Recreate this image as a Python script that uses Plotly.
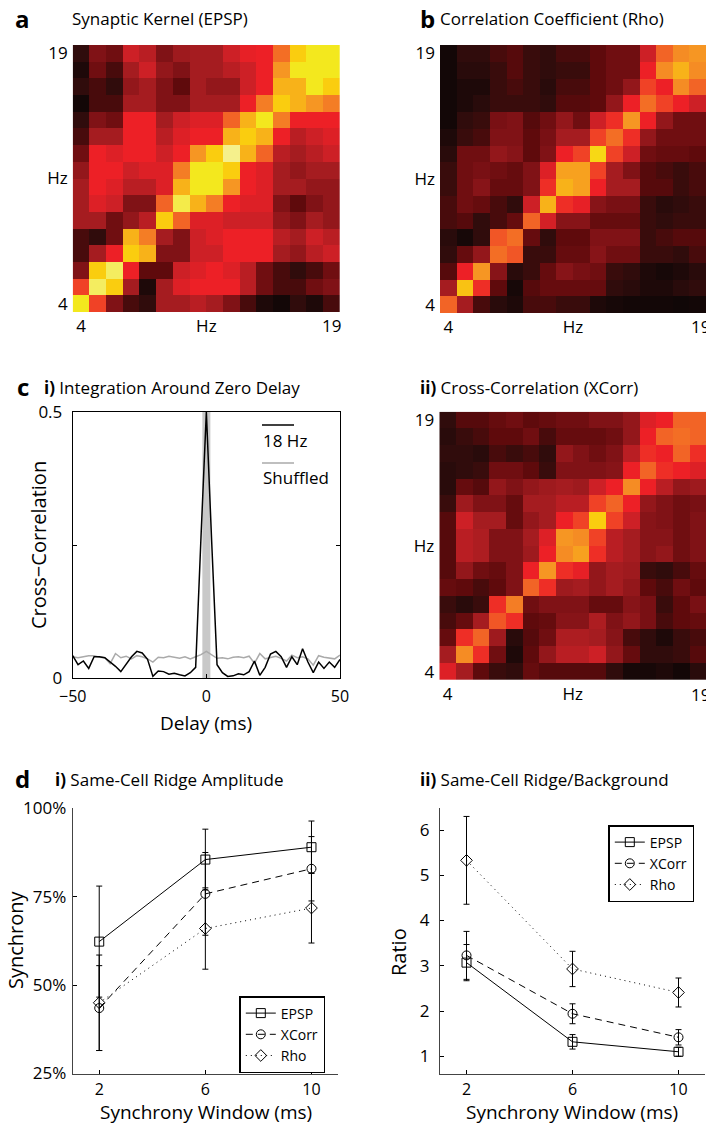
import plotly.graph_objects as go

W, H = 706, 1126
FONT = "Open Sans"

# ---------------- data ----------------
freqs = list(range(4, 20))
freqs_desc = freqs[::-1]          # rows listed from 19 Hz (top) down to 4 Hz

# colour-level values (0 = black ... 10 = pale yellow), rows 19 Hz -> 4 Hz
epsp_kernel = [
    [1, 3, 2.5, 5, 4.5, 3, 3.8, 4, 4, 5, 5.8, 6, 7.2, 9, 9.5, 9.5],
    [0.5, 2.5, 1.5, 4, 5, 3.5, 3, 4, 4, 4.5, 5, 6, 8, 9.5, 9.5, 9.5],
    [1, 1.5, 1, 3.5, 4, 3, 2, 4, 3.5, 3.5, 5, 6, 8.5, 8.5, 9.5, 9],
    [0.2, 1.5, 1.5, 4, 4, 3, 3, 4, 4, 4, 6, 7.5, 9, 8.5, 8, 7.5],
    [1, 3, 2.5, 6, 6, 4, 5, 5.5, 5.5, 7, 8.5, 9.5, 7.5, 6, 6, 6],
    [1.5, 4, 4, 6, 6, 4.5, 5.5, 6, 6, 8.5, 9, 8.5, 6, 4.5, 5, 5.5],
    [2.5, 6, 5.5, 6, 6, 5, 6, 8, 9, 10, 8.5, 7, 4.5, 4, 4.5, 5],
    [3.5, 6, 6, 5, 5.5, 5.5, 7.5, 9.5, 9.5, 9, 6, 5.5, 4, 3.5, 4, 4],
    [4, 6, 5.5, 4.5, 4.5, 5.5, 8.5, 9.5, 9.5, 8, 6, 5.5, 4, 4, 3.5, 3.5],
    [4, 5.5, 5, 3, 3, 7, 9.7, 8.5, 7.5, 6, 5.5, 5.5, 3, 2, 3, 3.5],
    [4, 4, 2.5, 3.5, 4.5, 9, 7, 5.5, 5.5, 5, 5, 5, 3.5, 3, 4, 3.5],
    [1.5, 1, 2.5, 8.5, 7.5, 4, 3, 5, 5.5, 6, 6, 6, 4.5, 4, 5, 4.5],
    [1.5, 4, 6, 9, 8.5, 3, 3, 5, 5, 6, 6, 6, 4, 3.5, 4.5, 5],
    [3, 9, 9.8, 6, 2, 2, 5, 5.5, 6, 5.5, 4.5, 2.5, 1.5, 1, 1.5, 2.5],
    [6.5, 9.8, 9, 4, 0.5, 4, 5.5, 6, 6, 6, 4.5, 2.5, 1.5, 1.5, 2.5, 3],
    [9.5, 6.5, 3, 1.5, 1, 4, 4, 4.5, 4, 3, 1.5, 0.5, 0.2, 1, 0.5, 1.5],
]

rho_matrix = [
    [0.2, 1, 1, 1.5, 1.8, 1.2, 1, 1.5, 1.5, 2, 2.5, 2.5, 5, 7, 7.8, 8],
    [0.2, 0.8, 0.8, 1.2, 1.8, 1.2, 1, 1.2, 1.2, 2, 2.5, 2.5, 6, 7.8, 8.5, 7.8],
    [0.2, 0.5, 0.5, 1.2, 1.5, 1.2, 0.8, 1.5, 1.5, 2, 2.5, 3.5, 6.5, 6, 7.8, 7],
    [0.2, 0.5, 0.8, 1.2, 1.2, 1.2, 1, 1.8, 1.8, 2, 3.5, 6, 7.2, 6.5, 6, 5],
    [0.2, 1, 1.2, 2.8, 3, 1.8, 2.5, 3.5, 2.5, 5, 6.2, 8, 6, 3.5, 2.5, 2.5],
    [0.5, 1.2, 1.5, 3, 3, 2, 2.8, 4, 4, 6.5, 7.2, 6.2, 3.5, 2.5, 2.5, 2.5],
    [0.8, 2.5, 2.5, 3.5, 3.2, 2, 3, 6, 6.5, 9.2, 6.5, 5, 2.5, 2.2, 2.2, 2],
    [1.2, 2.5, 2.8, 2.5, 2.2, 3, 5.5, 8.2, 8.2, 6.5, 4, 3, 1.8, 1.5, 1.2, 1.5],
    [1.2, 2.5, 3.2, 2.2, 2.2, 3, 6.2, 8.5, 8.2, 6, 4, 4, 1.8, 1.8, 1.2, 1.5],
    [1.5, 2.5, 2.2, 1.5, 1, 5, 8.5, 6.2, 5.8, 3.2, 2.8, 2.8, 1.2, 0.8, 1, 1.2],
    [1.5, 1.8, 1, 1.5, 2.2, 7, 5.2, 3.2, 3.2, 2.2, 2.2, 2.2, 1.2, 1, 1.2, 1.2],
    [0.8, 0.3, 1, 6.8, 7.2, 2.2, 1, 2, 2, 3, 3, 3, 1.2, 1.5, 1.8, 1.8],
    [1, 2.2, 3.5, 7.2, 6.8, 1.2, 1.2, 2.2, 2.2, 3.2, 2.5, 2.5, 1.2, 1.2, 1, 1.5],
    [1.8, 6, 8, 3.2, 0.8, 1.2, 2.2, 3.2, 2.8, 2.5, 1.2, 1, 0.5, 0.3, 0.5, 0.8],
    [4, 8.8, 6.2, 2, 0.3, 1.8, 2.2, 2.2, 2.2, 2.2, 1, 0.8, 0.5, 0.5, 0.8, 1],
    [7, 4, 1.5, 0.8, 0.5, 1.5, 1.5, 1.2, 1.2, 0.5, 0.3, 0.2, 0.2, 0.2, 0.1, 0.2],
]

xcorr_matrix = [
    [1, 1.8, 1.8, 2.2, 2.5, 2, 2.2, 2.5, 2.5, 3, 3, 3.5, 5.5, 6, 7, 7],
    [0.8, 1.2, 1.5, 2, 2, 2.5, 1.5, 2.2, 2.2, 2.2, 2.5, 3.5, 6, 7, 7.2, 7],
    [1, 1, 0.8, 1.5, 1.2, 1.5, 1, 3.5, 3, 2.5, 3, 4.5, 6.2, 6, 7, 6.2],
    [0.8, 1, 1.2, 2.5, 2.5, 2, 1.2, 3, 3, 3, 3.2, 6, 7, 6.2, 6, 5.5],
    [0.8, 2.2, 1.8, 3.5, 3, 3.5, 3.8, 4, 3.8, 5, 6, 7.8, 6, 4.5, 3.5, 3.8],
    [1.2, 3.8, 3, 3, 2.2, 4, 4, 4.5, 4.5, 6.5, 7, 6, 3.5, 3, 2.5, 2.8],
    [1.8, 5, 4, 4, 2.2, 3.5, 4, 6, 6.5, 9, 6.5, 5, 3.2, 3, 2.5, 3],
    [1.8, 4.5, 4.2, 3, 3, 4, 5.5, 8, 7.8, 6.5, 4.5, 4, 3.2, 3.2, 2.5, 3],
    [1.8, 4.5, 4.2, 3, 3, 3.8, 6, 7.8, 8.2, 6.2, 4.5, 4, 3.2, 3.5, 2.5, 3],
    [1.8, 3.5, 2.5, 2.2, 3, 6, 8, 6.2, 5.8, 3.5, 4, 3.8, 1.2, 1, 1.5, 2.2],
    [2.2, 2, 1.5, 2, 3, 7, 6.2, 3.8, 4, 3.5, 4, 3.5, 2, 1.5, 2.5, 2],
    [1.2, 0.8, 1.2, 6.2, 7.5, 2.5, 3, 3, 3, 2.2, 2.2, 3.2, 2.8, 1.2, 2, 2.8],
    [1.5, 2.2, 4, 6.8, 6.2, 2, 2.2, 3.2, 3.2, 4.2, 3, 3.5, 2.8, 1.5, 2, 2.2],
    [2.2, 6.2, 7, 3.8, 0.8, 1.8, 2.5, 4.2, 4.2, 4, 3.2, 1.5, 1, 0.5, 1.2, 1.5],
    [4, 7.8, 6.2, 2.5, 0.5, 2, 3.5, 4.5, 4.5, 5, 3.5, 2.2, 1, 1, 1.2, 1.8],
    [5.5, 4, 2, 1.2, 1, 2.2, 1.8, 1.8, 1.8, 1.8, 1, 0.3, 0.3, 0.5, 0.2, 0.8],
]

# panel c i : cross-correlation vs delay
delay_ms = list(range(-50, 51, 2))
xcorr_18hz = [0.042, 0.025, 0.032, 0.018, 0.040, 0.040, 0.038, 0.030, 0.022, 0.012,
              0.025, 0.040, 0.050, 0.047, 0.035, 0.003, 0.013, 0.012, 0.007, 0.009,
              0.006, 0.004, 0.010, 0.020, 0.265, 0.500, 0.255, 0.025, 0.010, 0.003,
              0.004, 0.008, 0.006, 0.012, 0.032, 0.005, 0.020, 0.045, 0.050, 0.040,
              0.020, 0.040, 0.025, 0.055, 0.030, 0.010, 0.030, 0.018, 0.030, 0.020,
              0.035]
xcorr_shuffled = [0.040, 0.038, 0.040, 0.042, 0.042, 0.039, 0.038, 0.027, 0.046, 0.038,
                  0.041, 0.036, 0.042, 0.040, 0.036, 0.030, 0.039, 0.038, 0.041, 0.039,
                  0.037, 0.040, 0.036, 0.040, 0.044, 0.050, 0.043, 0.037, 0.038, 0.036,
                  0.039, 0.040, 0.038, 0.041, 0.028, 0.046, 0.036, 0.039, 0.041, 0.037,
                  0.032, 0.043, 0.038, 0.040, 0.036, 0.024, 0.042, 0.039, 0.037, 0.036,
                  0.043]
zero_window = [-1.5, 1.5]

# panel d
sync_window = [2, 6, 10]
amp_epsp = [62.3, 85.5, 89.0]
amp_epsp_err = [15.7, 8.6, 7.4]
amp_xcorr = [43.5, 75.8, 82.9]
amp_xcorr_err = [12.0, 11.7, 9.1]
amp_rho = [45.0, 66.0, 71.8]
amp_rho_err = [13.5, 11.5, 9.9]
amp_ticks = [25, 50, 75, 100]
amp_ticklabels = ["25%", "50%", "75%", "100%"]

ratio_epsp = [3.07, 1.32, 1.10]
ratio_epsp_err = [0.40, 0.16, 0.10]
ratio_xcorr = [3.23, 1.94, 1.42]
ratio_xcorr_err = [0.53, 0.22, 0.17]
ratio_rho = [5.33, 2.93, 2.41]
ratio_rho_err = [0.97, 0.39, 0.32]
ratio_ticks = [1, 2, 3, 4, 5, 6]

# ---------------- helpers ----------------
def px(x):
    return x / W

def py(y):
    return 1 - y / H

hot = [
    [0.00, "rgb(12,6,6)"],
    [0.10, "rgb(48,12,12)"],
    [0.20, "rgb(95,10,12)"],
    [0.30, "rgb(128,18,22)"],
    [0.40, "rgb(165,28,32)"],
    [0.50, "rgb(205,32,38)"],
    [0.60, "rgb(237,32,38)"],
    [0.70, "rgb(242,100,38)"],
    [0.80, "rgb(246,150,35)"],
    [0.90, "rgb(250,205,15)"],
    [0.95, "rgb(243,232,30)"],
    [1.00, "rgb(245,240,140)"],
]

fig = go.Figure()

heat_specs = [
    (epsp_kernel, "x", "y"),
    (rho_matrix, "x2", "y2"),
    (xcorr_matrix, "x4", "y4"),
]
for z, xa, ya in heat_specs:
    fig.add_trace(go.Heatmap(z=z, x=freqs, y=freqs_desc, colorscale=hot, zmin=0, zmax=10,
                             showscale=False, xaxis=xa, yaxis=ya, hoverinfo="skip"))

# c i
fig.add_trace(go.Scatter(x=delay_ms, y=xcorr_shuffled, mode="lines",
                         line=dict(color="rgb(170,170,170)", width=1.5),
                         xaxis="x3", yaxis="y3", showlegend=False))
fig.add_trace(go.Scatter(x=delay_ms, y=xcorr_18hz, mode="lines",
                         line=dict(color="black", width=1.5),
                         xaxis="x3", yaxis="y3", showlegend=False))

series = [
    ("EPSP", "solid", "square-open"),
    ("XCorr", "7px,5px", "circle-open"),
    ("Rho", "1px,4px", "diamond-open"),
]
amp_vals = [(amp_epsp, amp_epsp_err), (amp_xcorr, amp_xcorr_err), (amp_rho, amp_rho_err)]
ratio_vals = [(ratio_epsp, ratio_epsp_err), (ratio_xcorr, ratio_xcorr_err), (ratio_rho, ratio_rho_err)]

for (name, dash, sym), (v, e) in zip(series, amp_vals):
    fig.add_trace(go.Scatter(x=sync_window, y=v, name=name, mode="lines+markers",
                             line=dict(color="black", width=1, dash=dash),
                             marker=dict(symbol=sym, size=9, color="black",
                                         line=dict(color="black", width=1)),
                             error_y=dict(type="data", array=e, visible=True,
                                          color="black", thickness=1, width=3),
                             xaxis="x5", yaxis="y5", legend="legend"))
for (name, dash, sym), (v, e) in zip(series, ratio_vals):
    fig.add_trace(go.Scatter(x=sync_window, y=v, name=name, mode="lines+markers",
                             line=dict(color="black", width=1, dash=dash),
                             marker=dict(symbol=sym, size=9, color="black",
                                         line=dict(color="black", width=1)),
                             error_y=dict(type="data", array=e, visible=True,
                                          color="black", thickness=1, width=3),
                             xaxis="x6", yaxis="y6", legend="legend2"))

tickf = dict(family=FONT, size=17, color="black")
tickf_small = dict(family=FONT, size=16, color="black")

def heat_axes(xdom, ydom, xname, yname, xticks=(4, 11.5, 19), xtext=("4", "Hz", "19")):
    xa = dict(domain=xdom, range=[3.5, 19.5], tickvals=list(xticks),
              ticktext=list(xtext), showgrid=False, zeroline=False,
              showline=False, ticks="", tickfont=tickf, anchor=yname,
              ticklabelstandoff=2, automargin=False)
    ya = dict(domain=ydom, range=[3.5, 19.5], tickvals=[4, 11.5, 19],
              ticktext=["4", "Hz", "19"], showgrid=False, zeroline=False,
              showline=False, ticks="", tickfont=tickf, anchor=xname,
              ticklabelstandoff=4, automargin=False)
    return xa, ya

xa1, ya1 = heat_axes([px(72.7), px(340)], [py(312), py(45)], "x", "y")
xa2, ya2 = heat_axes([px(440), px(706)], [py(313), py(45)], "x2", "y2",
                     (4, 11.5), ("4", "Hz"))
xa4, ya4 = heat_axes([px(439.3), px(706)], [py(680), py(411.7)], "x4", "y4",
                     (4, 11.5), ("4", "Hz"))

line_ax = dict(showgrid=False, zeroline=False, showline=True, linecolor="black",
               linewidth=1, ticks="inside", ticklen=4, tickcolor="black",
               tickfont=tickf, automargin=False)

xa3 = dict(line_ax, domain=[px(72.7), px(340)], range=[-50, 50],
           tickvals=[-50, 0, 50], ticktext=["\u221250", "0", "50"], mirror="ticks",
           anchor="y3", ticklabelstandoff=4, tickfont=tickf_small)
ya3 = dict(line_ax, domain=[py(678), py(412)], range=[0, 0.5],
           tickvals=[0, 0.25, 0.5], ticktext=["0", "", "0.5"], mirror="ticks",
           anchor="x3", ticklabelstandoff=6)

xa5 = dict(line_ax, domain=[px(72.7), px(338)], range=[1, 11], tickvals=sync_window,
           anchor="y5", linecolor="#444", tickfont=tickf_small, ticklabelstandoff=1)
ya5 = dict(line_ax, domain=[py(1073.5), py(808.3)], range=[25, 100],
           tickvals=amp_ticks, ticktext=amp_ticklabels, anchor="x5", linecolor="#444",
           ticklabelstandoff=2)
xa6 = dict(line_ax, domain=[px(440), px(705)], range=[1, 11], tickvals=sync_window,
           anchor="y6", linecolor="#444", tickfont=tickf_small, ticklabelstandoff=1)
ya6 = dict(line_ax, domain=[py(1073.5), py(808.3)], range=[0.62, 6.48],
           tickvals=ratio_ticks, anchor="x6", linecolor="#444",
           ticklabelstandoff=6)

legend_common = dict(xanchor="left", yanchor="top", bordercolor="black", borderwidth=1.5,
                     bgcolor="white", font=dict(family=FONT, size=14, color="black"),
                     tracegroupgap=0, itemwidth=30)

fig.update_layout(
    template="none",
    width=W, height=H, margin=dict(l=0, r=0, t=0, b=0, autoexpand=False),
    paper_bgcolor="white", plot_bgcolor="white",
    font=dict(family=FONT, color="black"),
    xaxis=xa1, yaxis=ya1, xaxis2=xa2, yaxis2=ya2, xaxis3=xa3, yaxis3=ya3,
    xaxis4=xa4, yaxis4=ya4, xaxis5=xa5, yaxis5=ya5, xaxis6=xa6, yaxis6=ya6,
    legend=dict(legend_common, x=px(239.3), y=py(996)),
    legend2=dict(legend_common, x=px(608.3), y=py(825)),
)

# gray integration window
fig.add_shape(type="rect", xref="x3", yref="y3 domain", x0=zero_window[0], x1=zero_window[1],
              y0=0, y1=1, fillcolor="rgb(200,200,200)", line=dict(width=0), layer="below")
# c i legend
fig.add_shape(type="line", xref="paper", yref="paper", x0=px(262), x1=px(294),
              y0=py(425), y1=py(425), line=dict(color="black", width=1.5))
fig.add_shape(type="line", xref="paper", yref="paper", x0=px(262), x1=px(294),
              y0=py(463), y1=py(463), line=dict(color="rgb(170,170,170)", width=1.5))

def txt(text, x, y, size=17, xanchor="left", angle=0, bold=False):
    fig.add_annotation(text=f"<b>{text}</b>" if bold else text, x=px(x), y=py(y),
                       xref="paper", yref="paper", showarrow=False, xanchor=xanchor,
                       yanchor="middle", textangle=angle,
                       font=dict(family=FONT, size=size, color="black"))

txt("a", 13, 18, size=24, bold=True)
txt("b", 418, 18, size=24, bold=True)
txt("c", 15, 386, size=24, bold=True)
txt("d", 13, 778, size=24, bold=True)

txt("Synaptic Kernel (EPSP)", 70, 19)
txt("Correlation Coefficient (Rho)", 438, 19)
txt("<b>i)</b> Integration Around Zero Delay", 42, 387)
txt("<b>ii)</b> Cross-Correlation (XCorr)", 418, 387)
txt("<b>i)</b> Same-Cell Ridge Amplitude", 53, 779)
txt("<b>ii)</b> Same-Cell Ridge/Background", 418, 779)

# right-most "19" tick labels of panels b and c ii, which run off the page edge
txt("19", 689, 326)
txt("19", 689, 694)

txt("18 Hz", 261, 441)
txt("Shuffled", 261, 478)

txt("Cross\u2212Correlation", 38, 545, size=20, xanchor="center", angle=-90)
txt("Delay (ms)", 206, 723, size=19, xanchor="center")
txt("Synchrony", 15, 940, size=20, xanchor="center", angle=-90)
txt("Ratio", 398, 952, size=20, xanchor="center", angle=-90)
txt("Synchrony Window (ms)", 206, 1112, size=19, xanchor="center")
txt("Synchrony Window (ms)", 572, 1112, size=19, xanchor="center")

fig.write_html("out.html")
